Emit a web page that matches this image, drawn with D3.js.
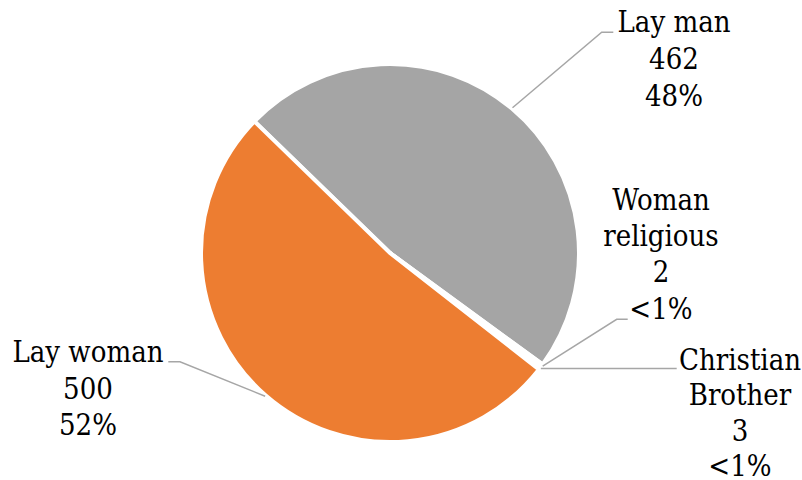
<!DOCTYPE html>
<html>
<head>
<meta charset="utf-8">
<script src="https://cdn.jsdelivr.net/npm/d3@7"></script>
<style>
  html, body { margin: 0; padding: 0; background: #fff; }
  svg { display: block; }
</style>
</head>
<body>
<svg id="chart" width="802" height="480"></svg>
<script>
// ---- data ----
const categories = ["Lay man", "Woman religious", "Christian Brother", "Lay woman"];
const values = [462, 2, 3, 500];
const nameLines = [["Lay man"], ["Woman", "religious"], ["Christian", "Brother"], ["Lay woman"]];
const colors = ["#A5A5A5", "#4472C4", "#FFC000", "#ED7D31"];

// ---- layout ----
const W = 802, H = 480;
const cx = 390, cy = 253, R = 189;
const startDeg = -45.85;
const fontSize = 29;
const fontFamily = "'DejaVu Serif', serif";
const labelLayout = [
  { x: 674, y0: 32,    gap: 37,   elbow: [601.7, 32.3],  end: [613.3, 32.3] },
  { x: 661, y0: 210,   gap: 36.2, elbow: [616.7, 319.3], end: [627.7, 319.3] },
  { x: 740, y0: 369.5, gap: 35.5, elbow: null,           end: [676.7, null] },
  { x: 88,  y0: 362,   gap: 36.6, elbow: [180, 361.7],   end: [168.3, 361.7] }
];

const total = d3.sum(values);
const data = categories.map((c, i) => ({ name: c, value: values[i], lines: nameLines[i], color: colors[i] }));
const pctText = v => {
  const p = v / total * 100;
  return p < 1 ? "<1%" : Math.round(p) + "%";
};

const svg = d3.select("#chart");
const g = svg.append("g").attr("transform", `translate(${cx},${cy})`);

const s0 = startDeg * Math.PI / 180;
const pie = d3.pie().sort(null).value(d => d.value).startAngle(s0).endAngle(s0 + 2 * Math.PI);
const arc = d3.arc().innerRadius(0).outerRadius(R);
const arcs = pie(data);

g.selectAll("path.slice")
  .data(arcs)
  .join("path")
  .attr("class", "slice")
  .attr("d", arc)
  .attr("fill", d => d.data.color)
  .attr("stroke", "#fff")
  .attr("stroke-width", 4)
  .attr("stroke-linejoin", "miter");

// leader lines + labels
arcs.forEach((a, i) => {
  const L = labelLayout[i];
  const mid = (a.startAngle + a.endAngle) / 2;
  const sx = cx + (R + 1) * Math.sin(mid);
  const sy = cy - (R + 1) * Math.cos(mid);
  const pts = [[sx, sy]];
  if (L.elbow) pts.push(L.elbow);
  pts.push([L.end[0], L.end[1] == null ? sy : L.end[1]]);
  svg.append("path")
    .attr("d", d3.line()(pts))
    .attr("fill", "none")
    .attr("stroke", "#A6A6A6")
    .attr("stroke-width", 1.5);

  const lines = a.data.lines.concat([String(a.data.value), pctText(a.data.value)]);
  const t = svg.append("text")
    .attr("text-anchor", "middle")
    .style("font-family", fontFamily)
    .style("font-stretch", "condensed")
    .attr("fill", "#000")
    .attr("font-size", fontSize);
  lines.forEach((ln, k) => {
    t.append("tspan").attr("x", L.x).attr("y", L.y0 + k * L.gap).text(ln);
  });
});
</script>
</body>
</html>
